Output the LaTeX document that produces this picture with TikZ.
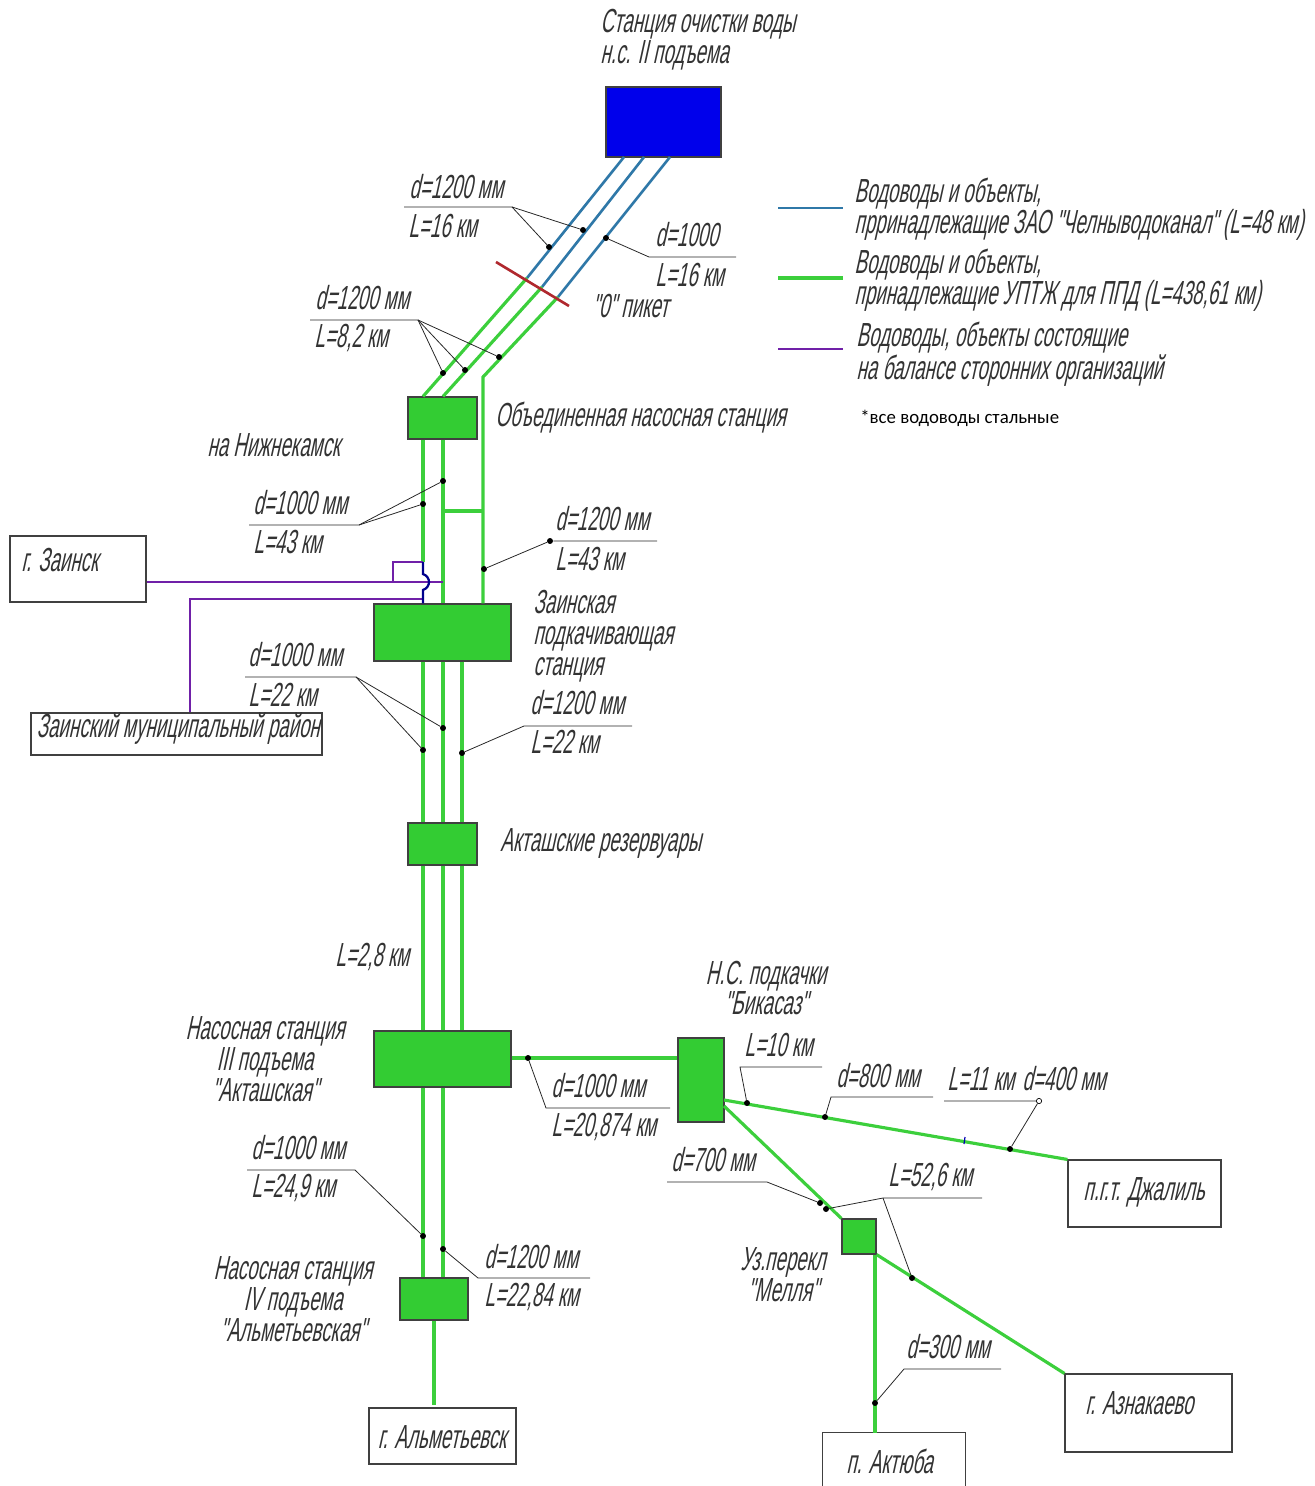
\documentclass[tikz,border=0pt]{standalone}
\usepackage{fontspec}
\newfontfamily\cadfont{Liberation Sans}[FakeStretch=0.56,FakeSlant=0.22]
\newfontfamily\notefont{Carlito}
\usetikzlibrary{calc}
\definecolor{pipegreen}{HTML}{3CCF3C}
\definecolor{boxgreen}{HTML}{33CC33}
\definecolor{pipeblue}{HTML}{2F78A8}
\definecolor{pipepurple}{HTML}{7020A8}
\definecolor{picketred}{HTML}{B0282E}
\tikzset{
    gpipe/.style={pipegreen, line width=1.8pt},
    bpipe/.style={pipeblue, line width=1.5pt},
    ppipe/.style={pipepurple, line width=1.5pt},
    leader/.style={black!85, line width=0.45pt},
    station/.style 2 args={draw=black!75, fill=boxgreen, line width=0.6pt, inner sep=0pt, minimum width=#1*0.02cm, minimum height=#2*0.02cm},
    city/.style 2 args={draw=black!75, fill=white, line width=0.6pt, inner sep=0pt, minimum width=#1*0.02cm, minimum height=#2*0.02cm, font=\cadtext},
    lbl/.style={anchor=west, inner sep=0pt, xshift=-0.04cm, font=\cadtext, align=left},
    lblc/.style={inner sep=0pt, font=\cadtext, align=center},
    pt/.style={circle, fill=black, inner sep=0pt, minimum size=3.4pt}
}
\newcommand{\cadtext}{\cadfont\fontsize{19}{17.6}\selectfont\color{black!80}}

\begin{document}
\begin{tikzpicture}[x=0.02cm, y=-0.02cm]
    \useasboundingbox (0, 0) rectangle (1314, 1486);

    % оси вертикальных водоводов
    \coordinate (xa) at (423, 0);
    \coordinate (xb) at (443, 0);
    \coordinate (xc) at (483, 0);
    \coordinate (xd) at (462, 0);

    % станции
    \node[station={115}{70}, fill={rgb,255:red,0;green,0;blue,235}] (ochistka) at (663.5, 122) {};
    \node[station={69}{42}] (obed) at (442.5, 418) {};
    \node[station={137}{57}] (zainskst) at (442.5, 632.5) {};
    \node[station={69}{42}] (rezerv) at (442.5, 844) {};
    \node[station={137}{56}] (aktash) at (442.5, 1059) {};
    \node[station={68}{42}] (almst) at (434, 1299) {};
    \node[station={46}{84}] (bikasaz) at (701, 1080) {};
    \node[station={34}{35}] (mellya) at (859, 1236.5) {};

    % потребители
    \node[city={136}{66}] (zainsk) at (78, 569) {};
    \node[city={291}{42}] (munrayon) at (176.5, 734) {};
    \node[city={147}{56}] (almet) at (442.5, 1436) {};
    \node[city={153}{67}] (jalil) at (1144.5, 1193.5) {};
    \node[city={167}{78}] (aznak) at (1148.5, 1413) {};
    \node[inner sep=0pt, minimum width=2.84cm, minimum height=1.06cm] (aktyuba) at (894, 1459.5) {};
    \draw[black!75, line width=0.6pt] (aktyuba.south west) -- (aktyuba.north west) -- (aktyuba.north east) -- (aktyuba.south east);

    % водоводы от станции очистки до "0" пикета
    \coordinate (q1) at (527, 278);
    \coordinate (q2) at (542, 287);
    \coordinate (q3) at (558, 297);
    \draw[bpipe] (624, 157) -- (q1);
    \draw[bpipe] (644, 157) -- (q2);
    \draw[bpipe] (670, 157) -- (q3);

    % от пикета до объединенной станции
    \coordinate (bend) at (483, 377);
    \draw[gpipe] (q1) -- (obed.north -| xa);
    \draw[gpipe] (q2) -- (obed.north -| xb);
    \draw[gpipe] (q3) -- (bend) -- (zainskst.north -| xc);

    % "0" пикет
    \coordinate (r1) at (496, 262);
    \coordinate (r2) at (569, 306);
    \draw[picketred, line width=1.5pt] (r1) -- (r2);

    % водоводы до Заинской станции
    \coordinate (jog) at (423, 562);
    \draw[gpipe] (obed.south -| xa) -- (jog);
    \draw[gpipe] (obed.south -| xb) -- (zainskst.north -| xb);
    \coordinate (cr1) at (443, 511);
    \coordinate (cr2) at (483, 511);
    \draw[gpipe] (cr1) -- (cr2);

    % сторонние организации
    \coordinate (zj) at (443, 582);
    \coordinate (lp) at (393, 562);
    \coordinate (lq) at (393, 582);
    \coordinate (mj) at (423, 599);
    \coordinate (mk) at (190, 599);
    \draw[ppipe] (zainsk.east |- zj) -- (zj);
    \draw[ppipe] (jog) -- (lp) -- (lq);
    \draw[ppipe] (mj) -- (mk) -- (munrayon.north -| mk);
    \draw[blue!55!black, line width=1.3pt] (jog) -- (423, 574) .. controls (431, 577) and (431, 587) .. (423, 590) -- (zainskst.north -| xa);

    % Заинская станция -- резервуары -- Актаж
    \foreach \xn in {xa, xb, xd} {
        \draw[gpipe] (zainskst.south -| \xn) -- (rezerv.north -| \xn);
        \draw[gpipe] (rezerv.south -| \xn) -- (aktash.north -| \xn);
    }

    % до IV подъема и г. Альметьевска
    \draw[gpipe] (aktash.south -| xa) -- (almst.north -| xa);
    \draw[gpipe] (aktash.south -| xb) -- (almst.north -| xb);
    \draw[gpipe] (almst.south) -- ([yshift=0.04cm]almet.north -| almst.south);

    % Бикасаз, Джалиль, Мелля, Азнакаево, Актюба
    \coordinate (yb) at (0, 1058);
    \coordinate (xm) at (875, 0);
    \draw[gpipe] (aktash.east |- yb) -- (bikasaz.west |- yb);
    \coordinate (bk1) at (724, 1100);
    \coordinate (bk2) at (724, 1106);
    \draw[gpipe] (bk1) -- (jalil.north west);
    \draw[gpipe] (bk2) -- (mellya.north west);
    \draw[gpipe] (mellya.south east) -- (aznak.north west);
    \draw[gpipe] (mellya.south -| xm) -- (aktyuba.north -| xm);
    \coordinate (tk1) at (965, 1137);
    \coordinate (tk2) at (964, 1144);
    \draw[blue!70!black, line width=0.7pt] (tk1) -- (tk2);

    % точки и выноски
    \node[pt] (p1) at (549, 247) {};
    \node[pt] (p2) at (583, 230) {};
    \node[pt] (p3) at (606, 238) {};
    \node[pt] (p4) at (443, 373) {};
    \node[pt] (p5) at (465, 370) {};
    \node[pt] (p6) at (499, 357) {};
    \node[pt] (p7) at (443, 481) {};
    \node[pt] (p8) at (423, 504) {};
    \node[pt] (p9) at (484, 569) {};
    \node[pt] (p10) at (550, 541) {};
    \node[pt] (p11) at (443, 728) {};
    \node[pt] (p12) at (423, 750) {};
    \node[pt] (p13) at (462, 753) {};
    \node[pt] (p14) at (423, 1236) {};
    \node[pt] (p15) at (443, 1249) {};
    \node[pt] (p16) at (528, 1058) {};
    \node[pt] (p17) at (747, 1103) {};
    \node[pt] (p18) at (825, 1117) {};
    \node[pt] (p19) at (1010, 1149) {};
    \node[pt, fill=white, draw=black, minimum size=3pt] (p20) at (1039, 1101) {};
    \node[pt] (p21) at (820, 1203) {};
    \node[pt] (p22) at (826, 1209) {};
    \node[pt] (p23) at (912, 1278) {};
    \node[pt] (p24) at (875, 1403) {};

    \draw[leader] (404, 207) -- (512, 207) coordinate (s1) -- (p1);
    \draw[leader] (s1) -- (p2);
    \draw[leader] (736, 257) -- (649, 257) coordinate (s2) -- (p3);
    \draw[leader] (310, 320) -- (418, 320) coordinate (s3) -- (p4);
    \draw[leader] (s3) -- (p5);
    \draw[leader] (s3) -- (p6);
    \draw[leader] (249, 525) -- (359, 525) coordinate (s4) -- (p7);
    \draw[leader] (s4) -- (p8);
    \draw[leader] (657, 541) -- (p10) -- (p9);
    \draw[leader] (245, 677) -- (356, 677) coordinate (s5) -- (p11);
    \draw[leader] (s5) -- (p12);
    \draw[leader] (632, 726) -- (524, 726) coordinate (s6) -- (p13);
    \draw[leader] (247, 1170) -- (355, 1170) coordinate (s7) -- (p14);
    \draw[leader] (590, 1278) -- (478, 1278) coordinate (s8) -- (p15);
    \draw[leader] (670, 1108) -- (546, 1108) coordinate (s9) -- (p16);
    \draw[leader] (822, 1067) -- (740, 1067) coordinate (s10) -- (p17);
    \draw[leader] (933, 1097) -- (831, 1097) coordinate (s11) -- (p18);
    \draw[leader] (944, 1101) -- (p20) -- (p19);
    \draw[leader] (667, 1182) -- (767, 1182) coordinate (s12) -- (p21);
    \draw[leader] (982, 1198) -- (883, 1198) coordinate (s13) -- (p22);
    \draw[leader] (s13) -- (p23);
    \draw[leader] (1001, 1369) -- (904, 1369) coordinate (s14) -- (p24);

    % легенда
    \coordinate (la) at (778, 208);
    \coordinate (lb) at (843, 208);
    \coordinate (lc) at (778, 278);
    \coordinate (ld) at (843, 278);
    \coordinate (le) at (778, 349);
    \coordinate (lf) at (843, 349);
    \draw[bpipe] (la) -- (lb);
    \draw[gpipe] (lc) -- (ld);
    \draw[ppipe] (le) -- (lf);
    \node[lbl] (leg1) at (856, 209) {Водоводы и объекты,\\прринадлежащие ЗАО "Челныводоканал" (L=48 км)};
    \node[lbl] (leg2) at (856, 280) {Водоводы и объекты,\\принадлежащие УПТЖ для ППД (L=438,61 км)};
    \node[lbl] (leg3) at (858, 354) {Водоводы, объекты состоящие\\на балансе сторонних организаций};
    \node[anchor=west, inner sep=0pt, font=\notefont\fontsize{10.7}{13}\selectfont] (note) at (860, 418) {*все водоводы стальные};

    % подписи станций
    \node[lbl] (tochist) at (602, 40) {Станция очистки воды\\н.с. II подъема};
    \node[lbl] (tobed) at (497, 418) {Объединенная насосная станция};
    \node[lbl] (tnizh) at (209, 445) {на Нижнекамск};
    \node[lbl] (tzst) at (535, 636) {Заинская\\подкачивающая\\станция};
    \node[lbl] (trez) at (502, 843) {Акташские резервуары};
    \node[lblc] (tbik) at (766, 988) {Н.С. подкачки\\"Бикасаз"};
    \node[lblc] (takt) at (265, 1059) {Насосная станция\\III подъема\\"Акташская"};
    \node[lblc] (talm) at (293, 1299) {Насосная станция\\IV подъема\\"Альметьевская"};
    \node[lblc] (tmel) at (783, 1275) {Уз.перекл\\"Мелля"};
    \node[lbl] (tpik) at (594, 306) {"0" пикет};

    % подписи потребителей
    \node[lbl] (tzain) at (23, 560) {г. Заинск};
    \node[lblc] (tmun) at (178, 729) {Заинский муниципальный район};
    \node[lblc] (talmc) at (442, 1437) {г. Альметьевск};
    \node[lblc] (tjal) at (1144, 1192) {п.г.т. Джалиль};
    \node[lbl] (tazn) at (1087, 1403) {г. Азнакаево};
    \node[lbl] (takb) at (848, 1461) {п. Актюба};

    % диаметры и длины
    \node[lbl] (d1) at (411, 187) {d=1200 мм};
    \node[lbl] (l1) at (410, 226) {L=16 км};
    \node[lbl] (d2) at (657, 235) {d=1000};
    \node[lbl] (l2) at (657, 275) {L=16 км};
    \node[lbl] (d3) at (317, 298) {d=1200 мм};
    \node[lbl] (l3) at (316, 338) {L=8,2 км};
    \node[lbl] (d4) at (255, 503) {d=1000 мм};
    \node[lbl] (l4) at (255, 542) {L=43 км};
    \node[lbl] (d5) at (557, 519) {d=1200 мм};
    \node[lbl] (l5) at (557, 559) {L=43 км};
    \node[lbl] (d6) at (250, 655) {d=1000 мм};
    \node[lbl] (l6) at (250, 695) {L=22 км};
    \node[lbl] (d7) at (532, 703) {d=1200 мм};
    \node[lbl] (l7) at (532, 742) {L=22 км};
    \node[lbl] (l8) at (337, 957) {L=2,8 км};
    \node[lbl] (d9) at (553, 1086) {d=1000 мм};
    \node[lbl] (l9) at (553, 1127) {L=20,874 км};
    \node[lbl] (l10) at (746, 1045) {L=10 км};
    \node[lbl] (d11) at (838, 1076) {d=800 мм};
    \node[lbl] (l12) at (949, 1079) {L=11 км};
    \node[lbl] (d12) at (1024, 1079) {d=400 мм};
    \node[lbl] (d13) at (673, 1160) {d=700 мм};
    \node[lbl] (l14) at (890, 1177) {L=52,6 км};
    \node[lbl] (d15) at (253, 1148) {d=1000 мм};
    \node[lbl] (l15) at (253, 1188) {L=24,9 км};
    \node[lbl] (d16) at (486, 1257) {d=1200 мм};
    \node[lbl] (l16) at (486, 1297) {L=22,84 км};
    \node[lbl] (d17) at (908, 1347) {d=300 мм};
\end{tikzpicture}
\end{document}
